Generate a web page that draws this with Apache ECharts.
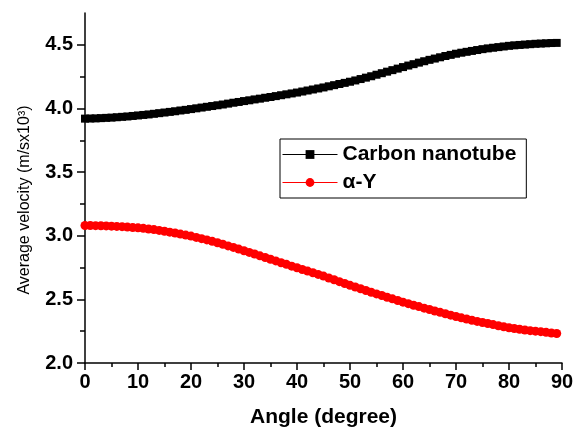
<!DOCTYPE html>
<html>
<head>
<meta charset="utf-8">
<script src="https://cdn.jsdelivr.net/npm/echarts@6/dist/echarts.min.js"></script>
<style>html,body{margin:0;padding:0;background:#fff}#c{width:580px;height:434px}</style>
</head>
<body>
<div id="c"></div>
<script>
// Angle (degree), one point per degree
const angles = Array.from({length: 90}, (_, i) => i);
// Carbon nanotube average velocity (m/s x10^3)
const carbonNanotube = [
  3.920, 3.921, 3.922, 3.924, 3.926, 3.928, 3.931, 3.934, 3.937, 3.941,
  3.945, 3.949, 3.953, 3.958, 3.963, 3.968, 3.973, 3.978, 3.984, 3.989,
  3.995, 4.001, 4.007, 4.013, 4.019, 4.025, 4.031, 4.038, 4.045, 4.051,
  4.058, 4.064, 4.071, 4.077, 4.084, 4.090, 4.097, 4.104, 4.111, 4.118,
  4.125, 4.133, 4.141, 4.149, 4.157, 4.165, 4.174, 4.183, 4.192, 4.201,
  4.210, 4.220, 4.231, 4.242, 4.253, 4.265, 4.277, 4.289, 4.301, 4.313,
  4.325, 4.337, 4.348, 4.360, 4.371, 4.382, 4.392, 4.402, 4.412, 4.421,
  4.430, 4.438, 4.445, 4.452, 4.459, 4.466, 4.472, 4.477, 4.482, 4.487,
  4.492, 4.496, 4.499, 4.502, 4.505, 4.508, 4.510, 4.512, 4.514, 4.515
];
// alpha-Y average velocity
const alphaY = [
  3.080, 3.080, 3.079, 3.078, 3.077, 3.075, 3.073, 3.071, 3.068, 3.065,
  3.062, 3.058, 3.053, 3.048, 3.042, 3.035, 3.028, 3.021, 3.013, 3.005,
  2.997, 2.987, 2.977, 2.967, 2.956, 2.945, 2.933, 2.920, 2.908, 2.895,
  2.882, 2.869, 2.856, 2.842, 2.829, 2.815, 2.802, 2.788, 2.775, 2.761,
  2.748, 2.735, 2.722, 2.709, 2.696, 2.683, 2.668, 2.654, 2.639, 2.625,
  2.610, 2.597, 2.583, 2.570, 2.556, 2.543, 2.530, 2.517, 2.504, 2.491,
  2.478, 2.466, 2.454, 2.443, 2.431, 2.420, 2.409, 2.398, 2.387, 2.376,
  2.365, 2.355, 2.346, 2.336, 2.327, 2.318, 2.310, 2.302, 2.293, 2.285,
  2.277, 2.271, 2.265, 2.259, 2.254, 2.250, 2.246, 2.241, 2.236, 2.232
];
const yMajorTicks = [2.0, 2.5, 3.0, 3.5, 4.0, 4.5];
const yMinorTicks = [2.25, 2.75, 3.25, 3.75, 4.25];
const seriesNames = ['Carbon nanotube', '\u03b1-Y'];

const FONT = 'Liberation Sans, Arial, sans-serif';
const chart = echarts.init(document.getElementById('c'), null, {renderer: 'canvas'});
const axisLineStyle = {color: '#000', width: 1.5};
chart.setOption({
  animation: false,
  backgroundColor: '#fff',
  grid: {left: 85, right: 18, top: 13, bottom: 71, containLabel: false},
  xAxis: {
    type: 'value', min: 0, max: 90, interval: 10,
    name: 'Angle (degree)', nameLocation: 'middle', nameGap: 44,
    nameTextStyle: {fontFamily: FONT, fontWeight: 'bold', fontSize: 21, color: '#000'},
    axisLine: {show: true, lineStyle: axisLineStyle},
    axisTick: {show: true, inside: false, length: 7, lineStyle: axisLineStyle},
    minorTick: {show: true, splitNumber: 2, length: 4, lineStyle: axisLineStyle},
    axisLabel: {fontFamily: FONT, fontWeight: 'bold', fontSize: 20, color: '#000', margin: 9},
    splitLine: {show: false}
  },
  yAxis: [{
    type: 'value', min: 2.0, max: 4.75,
    axisLine: {show: true, onZero: false, lineStyle: axisLineStyle},
    axisTick: {show: true, inside: false, length: 8, lineStyle: axisLineStyle, customValues: yMajorTicks},
    axisLabel: {fontFamily: FONT, fontWeight: 'bold', fontSize: 20, color: '#000', margin: 12,
      customValues: yMajorTicks, formatter: v => v.toFixed(1)},
    splitLine: {show: false}
  }, {
    type: 'value', min: 2.0, max: 4.75, position: 'left',
    axisLine: {show: false},
    axisTick: {show: true, inside: false, length: 5, lineStyle: axisLineStyle, customValues: yMinorTicks},
    axisLabel: {show: false},
    splitLine: {show: false}
  }],
  legend: {
    orient: 'vertical', left: 280, top: 139,
    padding: [5, 10, 5, 2], itemGap: 7, itemWidth: 55, itemHeight: 11,
    borderColor: '#000', borderWidth: 1, borderRadius: 0, backgroundColor: '#fff',
    lineStyle: {width: 1},
    textStyle: {fontFamily: FONT, fontWeight: 'bold', fontSize: 21, color: '#000'},
    data: seriesNames
  },
  graphic: [{
    type: 'text', x: 25, y: 200, rotation: Math.PI / 2,
    style: {text: 'Average velocity (m/sx10\u00b3)', font: '16px ' + FONT, fill: '#000',
      align: 'center', verticalAlign: 'middle'}
  }],
  series: [{
    name: seriesNames[0], type: 'line',
    data: angles.map((a, i) => [a, carbonNanotube[i]]),
    symbol: 'rect', symbolSize: 8, showAllSymbol: true,
    itemStyle: {color: '#000'}, lineStyle: {color: '#000', width: 1}
  }, {
    name: seriesNames[1], type: 'line',
    data: angles.map((a, i) => [a, alphaY[i]]),
    symbol: 'circle', symbolSize: 9, showAllSymbol: true,
    itemStyle: {color: '#ff0000'}, lineStyle: {color: '#ff0000', width: 1}
  }]
});
</script>
</body>
</html>
